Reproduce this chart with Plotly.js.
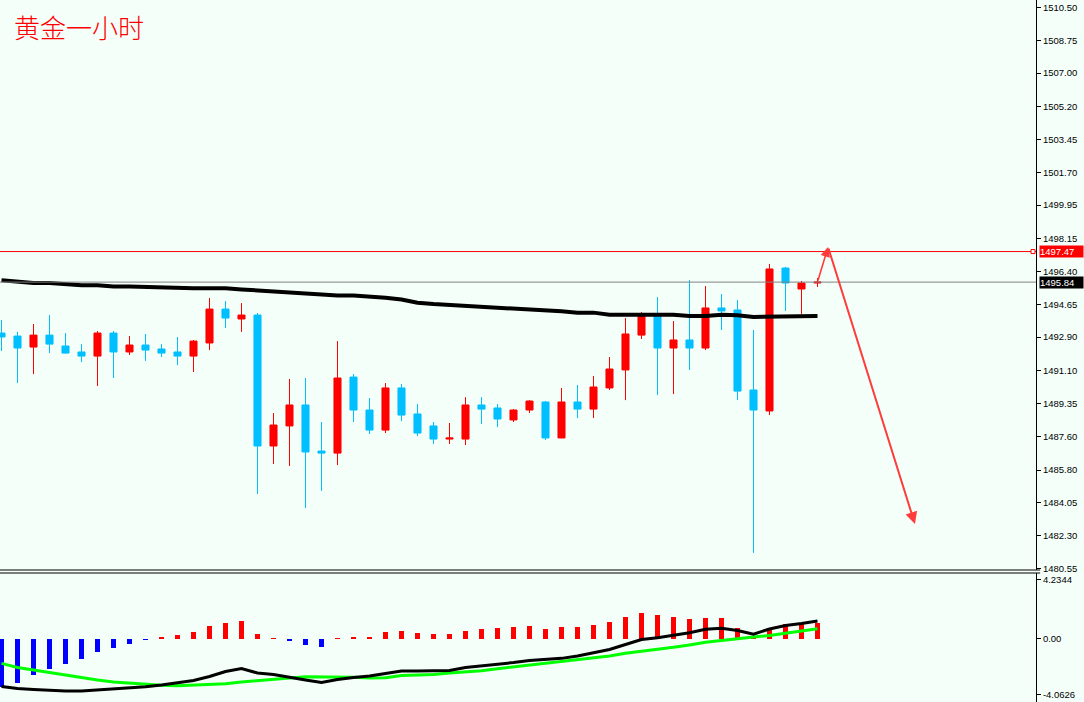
<!DOCTYPE html>
<html><head><meta charset="utf-8">
<script src="https://cdn.plot.ly/plotly-3.0.1.min.js"></script>
<style>html,body{margin:0;padding:0;background:#F5FFFA;overflow:hidden}</style>
</head><body><div id="chart" style="width:1084px;height:702px"></div>
<script>
// ---- data ----
const opens  = [1493.12,1492.96,1492.37,1493.01,1492.43,1492.11,1491.89,1493.12,1492.11,1492.48,1492.27,1492.11,1491.89,1492.59,1494.40,1493.87,1494.08,1487.09,1488.16,1489.28,1486.82,1486.71,1490.77,1489.01,1487.94,1490.19,1488.80,1488.16,1487.46,1487.46,1489.28,1489.12,1488.48,1489.01,1489.44,1487.52,1489.44,1489.06,1490.19,1491.15,1493.01,1494.08,1492.32,1492.75,1492.32,1494.46,1494.35,1490.08,1488.96,1496.59,1495.47,1495.79];
const highs  = [1493.82,1493.18,1493.60,1494.08,1493.12,1492.53,1493.23,1493.23,1492.96,1493.07,1492.53,1492.91,1492.75,1494.99,1494.83,1494.72,1494.19,1488.85,1490.67,1490.72,1488.37,1492.69,1490.93,1489.65,1490.45,1490.40,1489.33,1488.37,1488.32,1489.70,1489.70,1489.33,1489.06,1489.54,1489.49,1490.19,1490.35,1490.83,1491.84,1493.92,1494.24,1495.04,1493.76,1495.95,1495.63,1495.20,1494.88,1493.28,1496.81,1496.65,1495.90,1496.06];
const lows   = [1492.16,1490.45,1490.93,1492.05,1492.03,1491.57,1490.29,1490.72,1491.95,1491.63,1491.84,1491.41,1491.04,1492.21,1493.39,1493.18,1484.53,1486.13,1486.02,1483.78,1484.69,1486.07,1488.37,1487.73,1487.78,1488.42,1487.62,1487.20,1487.20,1487.14,1488.26,1488.10,1488.37,1488.85,1487.41,1487.50,1488.58,1488.58,1490.08,1489.54,1492.80,1489.81,1489.86,1491.15,1492.21,1493.28,1489.54,1481.38,1488.74,1494.30,1494.14,1495.58];
const closes = [1492.91,1492.32,1493.01,1492.53,1492.05,1491.89,1493.12,1492.11,1492.48,1492.21,1492.05,1491.89,1492.69,1494.40,1493.92,1494.08,1487.09,1488.21,1489.28,1486.77,1486.71,1490.72,1489.01,1487.94,1490.19,1488.74,1487.78,1487.46,1487.52,1489.28,1489.06,1488.53,1489.01,1489.49,1487.52,1489.44,1489.06,1490.24,1491.20,1493.07,1494.14,1492.32,1492.75,1492.32,1494.46,1494.30,1490.02,1489.01,1496.54,1495.79,1495.79,1495.84];
const maValues = [1495.94,1495.86,1495.79,1495.79,1495.72,1495.67,1495.67,1495.61,1495.61,1495.58,1495.54,1495.54,1495.51,1495.51,1495.51,1495.45,1495.40,1495.33,1495.26,1495.26,1495.19,1495.13,1495.13,1495.08,1495.01,1494.91,1494.74,1494.67,1494.62,1494.62,1494.55,1494.47,1494.47,1494.40,1494.33,1494.28,1494.21,1494.21,1494.10,1494.10,1494.10,1494.10,1494.10,1494.03,1494.03,1494.10,1494.07,1493.98,1493.98,1494.03,1494.03,1494.03];
const macdHist = [-3.49,-3.22,-2.65,-2.21,-1.85,-1.49,-0.99,-0.70,-0.41,-0.12,0.14,0.29,0.51,0.94,1.15,1.30,0.36,0.07,-0.14,-0.43,-0.58,0.07,0.14,0.14,0.51,0.58,0.43,0.36,0.36,0.58,0.72,0.79,0.87,0.94,0.72,0.87,0.87,1.01,1.23,1.59,1.88,1.73,1.59,1.44,1.52,1.52,0.79,0.14,0.79,1.08,1.15,1.15];
const macdMain = [-3.45,-3.60,-3.67,-3.74,-3.78,-3.78,-3.70,-3.63,-3.56,-3.47,-3.34,-3.20,-3.02,-2.73,-2.37,-2.15,-2.48,-2.58,-2.80,-2.98,-3.16,-2.95,-2.80,-2.69,-2.51,-2.33,-2.33,-2.33,-2.30,-2.08,-1.97,-1.85,-1.72,-1.57,-1.52,-1.42,-1.25,-1.03,-0.78,-0.42,-0.06,0.07,0.23,0.43,0.68,0.75,0.59,0.32,0.70,0.95,1.10,1.28];
const macdSignal = [-1.78,-2.08,-2.26,-2.44,-2.66,-2.84,-2.98,-3.13,-3.22,-3.31,-3.36,-3.39,-3.36,-3.31,-3.25,-3.13,-3.05,-2.95,-2.84,-2.74,-2.74,-2.74,-2.79,-2.84,-2.82,-2.66,-2.62,-2.58,-2.48,-2.40,-2.31,-2.17,-2.04,-1.93,-1.81,-1.68,-1.54,-1.42,-1.25,-1.05,-0.92,-0.79,-0.62,-0.45,-0.26,-0.13,0.01,0.12,0.23,0.41,0.56,0.72];
const priceTicks = [1510.50,1508.75,1507.00,1505.20,1503.45,1501.70,1499.95,1498.15,1496.40,1494.65,1492.90,1491.10,1489.35,1487.60,1485.80,1484.05,1482.30,1480.55];
const macdTicks = [4.2344, 0, -4.0626];
const macdTickText = ['4.2344','0.00','-4.0626'];
const bidPrice = 1495.84;
const alertPrice = 1497.47;
const arrowX = [51, 51.66, 57.09];
const arrowY = [1495.84, 1497.71, 1482.92];
const titleText = '黄金一小时';

const idx = opens.map((_, i) => i);
const BG = '#F5FFFA';
const axFont = {family: 'Liberation Sans, Arial, sans-serif', size: 9.5, color: '#000'};

const traces = [
  {
    type: 'candlestick', x: idx, open: opens, high: highs, low: lows, close: closes,
    xaxis: 'x', yaxis: 'y', whiskerwidth: 0, hoverinfo: 'skip', showlegend: false,
    increasing: {line: {color: '#FF0000', width: 1}, fillcolor: '#FF0000'},
    decreasing: {line: {color: '#00BFFF', width: 1}, fillcolor: '#00BFFF'}
  },
  {
    type: 'scatter', mode: 'lines', x: idx, y: maValues, xaxis: 'x', yaxis: 'y',
    line: {color: '#000000', width: 4}, hoverinfo: 'skip', showlegend: false
  },
  {
    type: 'bar', x: idx, y: macdHist, xaxis: 'x2', yaxis: 'y2', width: 0.32,
    marker: {color: macdHist.map(v => v >= 0 ? '#FF0000' : '#0000FF'), line: {width: 0}},
    hoverinfo: 'skip', showlegend: false
  },
  {
    type: 'scatter', mode: 'lines', x: idx, y: macdSignal, xaxis: 'x2', yaxis: 'y2',
    line: {color: '#00FF00', width: 3}, hoverinfo: 'skip', showlegend: false
  },
  {
    type: 'scatter', mode: 'lines', x: idx, y: macdMain, xaxis: 'x2', yaxis: 'y2',
    line: {color: '#000000', width: 3}, hoverinfo: 'skip', showlegend: false
  }
];

const plotW = 1036, H = 702;
const xr = [-1.5/16, -1.5/16 + plotW/16];
const mainBottom = 1 - 570/H, subTop = 1 - 573/H;

const layout = {
  width: 1084, height: 702,
  margin: {l: 0, r: 1084 - plotW, t: 0, b: 0, pad: 0},
  paper_bgcolor: BG, plot_bgcolor: BG,
  showlegend: false, boxgap: 0.37, bargap: 0,
  xaxis: {domain: [0, 1], range: xr, anchor: 'y', showgrid: false, zeroline: false,
          showticklabels: false, ticks: '', showline: false, rangeslider: {visible: false}, fixedrange: true},
  xaxis2: {domain: [0, 1], range: xr, anchor: 'y2', showgrid: false, zeroline: false,
          showticklabels: false, ticks: '', showline: false, fixedrange: true},
  yaxis: {domain: [mainBottom, 1], range: [1480.47, 1510.90], side: 'right', anchor: 'x',
          showgrid: false, zeroline: false, showline: true, linecolor: '#000', linewidth: 1,
          ticks: 'outside', ticklen: 4, tickcolor: '#000', tickwidth: 1,
          tickvals: priceTicks, ticktext: priceTicks.map(v => v.toFixed(2)),
          tickfont: axFont, fixedrange: true},
  yaxis2: {domain: [0, subTop], range: [-4.568, 4.739], side: 'right', anchor: 'x2',
          showgrid: false, zeroline: false, showline: true, linecolor: '#000', linewidth: 1,
          ticks: 'outside', ticklen: 4, tickcolor: '#000', tickwidth: 1,
          tickvals: macdTicks, ticktext: macdTickText, tickfont: axFont, fixedrange: true},
  shapes: [
    {type: 'line', xref: 'x', yref: 'y', x0: xr[0], x1: xr[1], y0: bidPrice, y1: bidPrice,
     line: {color: '#808080', width: 1}},
    {type: 'line', xref: 'x', yref: 'y', x0: xr[0], x1: xr[1], y0: alertPrice, y1: alertPrice,
     line: {color: '#FF0000', width: 1}},
    {type: 'rect', xref: 'paper', yref: 'y', xsizemode: 'pixel', ysizemode: 'pixel',
     xanchor: 1, x0: -5, x1: -1, yanchor: alertPrice, y0: -2, y1: 2,
     line: {color: '#FF0000', width: 1}, fillcolor: BG},
    {type: 'line', xref: 'paper', yref: 'paper', x0: 0, x1: 1.004, y0: mainBottom, y1: mainBottom,
     line: {color: '#000', width: 1}},
    {type: 'line', xref: 'paper', yref: 'paper', x0: 0, x1: 1.004, y0: subTop, y1: subTop,
     line: {color: '#000', width: 1}}
  ],
  annotations: [
    {text: titleText, xref: 'paper', yref: 'paper', x: 12/plotW, y: 1 - 27/H,
     xanchor: 'left', yanchor: 'middle', showarrow: false,
     font: {family: 'Noto Sans CJK SC, sans-serif', size: 26, color: '#FF0000', weight: 300}},
    {text: alertPrice.toFixed(2), xref: 'paper', yref: 'y', x: 1, y: alertPrice,
     xanchor: 'left', yanchor: 'middle', xshift: 3, showarrow: false, bgcolor: '#FF0000',
     width: 43, align: 'left', borderpad: 0, font: {family: axFont.family, size: 9.5, color: '#FFFFFF'}},
    {text: bidPrice.toFixed(2), xref: 'paper', yref: 'y', x: 1, y: bidPrice,
     xanchor: 'left', yanchor: 'middle', xshift: 3, showarrow: false, bgcolor: '#000000',
     width: 43, align: 'left', borderpad: 0, font: {family: axFont.family, size: 9.5, color: '#FFFFFF'}},
    {text: '', xref: 'x', yref: 'y', axref: 'x', ayref: 'y', x: arrowX[1], y: arrowY[1],
     ax: arrowX[0], ay: arrowY[0], showarrow: true, arrowhead: 2, arrowsize: 1.2, arrowwidth: 1.6,
     arrowcolor: '#FF3C3C', standoff: 0, startstandoff: 0},
    {text: '', xref: 'x', yref: 'y', axref: 'x', ayref: 'y', x: arrowX[2], y: arrowY[2],
     ax: arrowX[1], ay: arrowY[1], showarrow: true, arrowhead: 2, arrowsize: 1.2, arrowwidth: 2,
     arrowcolor: '#FF3C3C', standoff: 0, startstandoff: 0}
  ]
};

Plotly.newPlot('chart', traces, layout, {staticPlot: true, displayModeBar: false});
</script>
</body></html>
